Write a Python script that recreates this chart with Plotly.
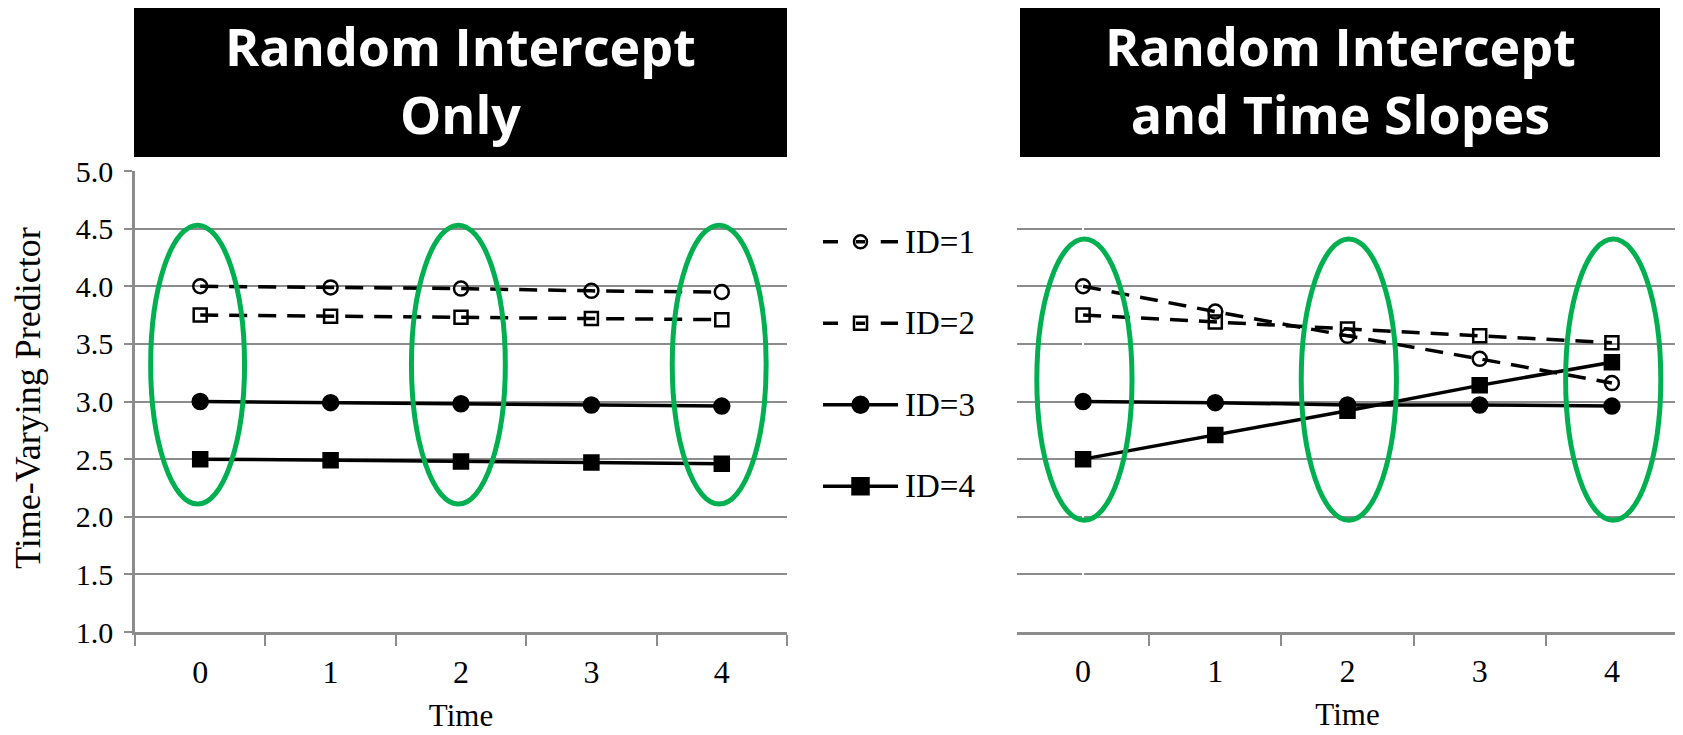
import plotly.graph_objects as go

# ---------------- data ----------------
time_labels = ["0", "1", "2", "3", "4"]
id_names = ["ID=1", "ID=2", "ID=3", "ID=4"]

left_id1 = [4.00, 3.99, 3.98, 3.96, 3.95]
left_id2 = [3.75, 3.74, 3.73, 3.72, 3.71]
left_id3 = [3.00, 2.99, 2.98, 2.97, 2.96]
left_id4 = [2.50, 2.49, 2.48, 2.47, 2.46]

right_id1 = [4.00, 3.78, 3.57, 3.37, 3.16]
right_id2 = [3.75, 3.69, 3.63, 3.57, 3.51]
right_id3 = [3.00, 2.99, 2.97, 2.97, 2.96]
right_id4 = [2.50, 2.71, 2.92, 3.14, 3.34]

panel_titles = ["Random Intercept<br>Only", "Random Intercept<br>and Time Slopes"]
y_title = "Time-Varying Predictor"
x_title = "Time"

highlight_times = [0, 2, 4]
left_ellipse_y = [2.11, 4.53]
right_ellipse_y = [1.97, 4.41]

# ---------------- styling ----------------
# the page body has an 8px default margin, so the figure is drawn 8px in
OFF = 8
W, H = 1683 - OFF, 735 - OFF
GRID = "#8c8c8c"
GREEN = "#00B050"
SERIF = "Liberation Serif"

styles = [
    dict(dash="18px,11px", symbol="circle-open", size=14),
    dict(dash="18px,11px", symbol="square-open", size=13),
    dict(dash="solid", symbol="circle", size=15),
    dict(dash="solid", symbol="square", size=14),
]


def px_x(p):
    return (p - OFF) / W


def px_y(p):
    return 1 - (p - OFF) / H


fig = go.Figure()

time_pos = list(range(len(time_labels)))
panels = [
    ("x", "y", time_labels, [left_id1, left_id2, left_id3, left_id4]),
    ("x2", "y2", time_pos, [right_id1, right_id2, right_id3, right_id4]),
]
for xa, ya, xs, series in panels:
    for name, vals, st in zip(id_names, series, styles):
        fig.add_trace(go.Scatter(
            x=xs, y=vals, xaxis=xa, yaxis=ya, name=name,
            mode="lines+markers", showlegend=False,
            line=dict(color="black", width=3.5, dash=st["dash"]),
            marker=dict(symbol=st["symbol"], size=st["size"], color="black",
                        line=dict(color="black", width=2.5)),
        ))

# ---- custom legend key (hidden axis) ----
for i, (name, st) in enumerate(zip(id_names, styles)):
    if st["dash"] == "solid":
        lx, ly = [0, 1], [i, i]
    else:
        lx = [0, 0.2, None, 0.44, 0.56, None, 0.77, 1]
        ly = [i, i, None, i, i, None, i, i]
    fig.add_trace(go.Scatter(x=lx, y=ly, xaxis="x3", yaxis="y3", mode="lines",
                             showlegend=False, line=dict(color="black", width=3.5)))
    msize = 13 if st["symbol"].endswith("open") else 16
    fig.add_trace(go.Scatter(x=[0.5], y=[i], xaxis="x3", yaxis="y3", mode="markers",
                             showlegend=False,
                             marker=dict(symbol=st["symbol"], size=msize, color="black",
                                         line=dict(color="black", width=2.5))))
    fig.add_annotation(x=1, y=i, xref="x3", yref="y3", text=name, showarrow=False,
                       xanchor="left", yanchor="middle", xshift=5,
                       font=dict(family=SERIF, size=33, color="black"))

axis_line = dict(showline=True, linecolor=GRID, linewidth=2.5, showgrid=False,
                 automargin=False, fixedrange=True,
                 tickfont=dict(family=SERIF, size=32, color="black"),
                 title=dict(text=x_title, font=dict(family=SERIF, size=31, color="black"),
                            standoff=16))
common_y = dict(range=[1, 5], dtick=0.5, tick0=1, tickformat=".1f", showgrid=True,
                gridcolor=GRID, gridwidth=2, zeroline=False, automargin=False,
                domain=[px_y(632), px_y(171)], fixedrange=True)

boundaries = [p + 0.5 for p in time_pos]

fig.update_layout(
    width=W, height=H,
    margin=dict(l=0, r=0, t=0, b=0),
    paper_bgcolor="white", plot_bgcolor="white",
    showlegend=False,
    xaxis=dict(domain=[px_x(135), px_x(787)], anchor="y", type="category",
               categoryorder="array", categoryarray=time_labels, range=[-0.5, 4.5],
               ticks="outside", tickson="boundaries", ticklen=11, tickwidth=2,
               tickcolor=GRID, ticklabelstandoff=10, **axis_line),
    yaxis=dict(anchor="x", showline=True, linecolor=GRID, linewidth=2.5,
               ticks="outside", ticklen=8, tickwidth=2, tickcolor=GRID,
               ticklabelstandoff=5,
               tickfont=dict(family=SERIF, size=30, color="black"),
               **common_y),
    xaxis2=dict(domain=[px_x(1017), px_x(1678)], anchor="y2", type="linear",
                range=[-0.5, 4.5], tickmode="array", tickvals=time_pos, ticktext=time_labels,
                ticks="outside", ticklen=11, tickwidth=2, tickcolor="rgba(0,0,0,0)",
                ticklabelstandoff=-2,
                minor=dict(tickmode="array", tickvals=boundaries, ticks="outside",
                           ticklen=11, tickwidth=2, tickcolor=GRID, showgrid=False),
                **axis_line),
    yaxis2=dict(anchor="x2", showline=False, ticks="", showticklabels=False, **common_y),
    xaxis3=dict(domain=[px_x(823), px_x(898)], range=[0, 1], visible=False,
                anchor="y3", fixedrange=True),
    yaxis3=dict(domain=[px_y(527), px_y(201)], range=[3.5, -0.5], visible=False,
                anchor="x3", fixedrange=True),
)

# y axis title placed beside the left panel
fig.add_annotation(x=px_x(28), y=px_y(398), xref="paper", yref="paper", text=y_title,
                   textangle=-90, showarrow=False, xanchor="center", yanchor="middle",
                   font=dict(family=SERIF, size=36, color="black"))

# ---- ellipses around highlighted time points ----
for t in highlight_times:
    fig.add_shape(type="circle", xref="x", yref="y", x0=t - 0.38, x1=t + 0.34,
                  y0=left_ellipse_y[0], y1=left_ellipse_y[1],
                  line=dict(color=GREEN, width=5), layer="above")
    fig.add_shape(type="circle", xref="x2", yref="y2", x0=t - 0.35, x1=t + 0.37,
                  y0=right_ellipse_y[0], y1=right_ellipse_y[1],
                  line=dict(color=GREEN, width=5), layer="above")

# ---- black title boxes ----
boxes = [(134, 787), (1020, 1660)]
for (bx0, bx1), txt in zip(boxes, panel_titles):
    fig.add_shape(type="rect", xref="paper", yref="paper",
                  x0=px_x(bx0), x1=px_x(bx1), y0=px_y(157), y1=px_y(8),
                  fillcolor="black", line=dict(width=0), layer="above")
    fig.add_annotation(x=px_x((bx0 + bx1) / 2), y=px_y(80), xref="paper", yref="paper",
                       text=txt, showarrow=False, xanchor="center", yanchor="middle",
                       font=dict(family="Open Sans", size=52, color="white",
                                 weight="bold"))

fig.write_html("out.html")
